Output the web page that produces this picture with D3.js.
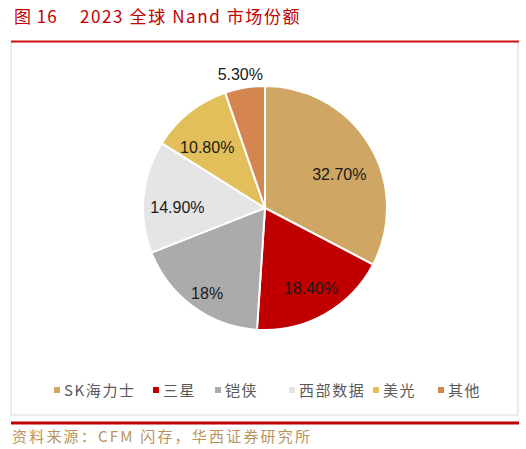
<!DOCTYPE html>
<html><head><meta charset="utf-8">
<script src="https://cdn.jsdelivr.net/npm/d3@7"></script>
<style>body{margin:0;background:#fff;}</style>
</head><body>
<svg id="c" width="526" height="449"></svg>
<script>
const categories = ["SK海力士","三星","铠侠","西部数据","美光","其他"];
const shares = [32.7, 18.4, 18, 14.9, 10.8, 5.3];
const labels = ["32.70%","18.40%","18%","14.90%","10.80%","5.30%"];
const colors = ["#CFA663","#C00000","#ABABAB","#E5E5E5","#E2BF5A","#D5854F"];

// label layout nudges (px) relative to slice centroid
const labelNudge = [[-1,12],[3,4],[-6,14],[0,7],[-3,8],[-2,1]];

const svg = d3.select("#c");
const cjk = "'Noto Sans CJK SC','Liberation Sans',sans-serif";

svg.append("text").attr("x",14).attr("y",23).attr("fill","#C00000")
  .attr("font-family",cjk).attr("font-size",17).attr("letter-spacing",1)
  .text("图 16");
svg.append("text").attr("x",80).attr("y",23).attr("fill","#C00000")
  .attr("font-family",cjk).attr("font-size",17).attr("letter-spacing",1.6)
  .text("2023 全球 Nand 市场份额");

svg.append("rect").attr("x",11).attr("y",42).attr("width",507).attr("height",373)
  .attr("fill","#fff").attr("stroke","#D9D9D9").attr("stroke-width",1);
svg.append("line").attr("x1",11).attr("x2",519).attr("y1",41.5).attr("y2",41.5)
  .attr("stroke","#D01515").attr("stroke-width",2);
svg.append("line").attr("x1",11).attr("x2",519).attr("y1",423).attr("y2",423)
  .attr("stroke","#C00000").attr("stroke-width",3);

const cx = 265, cy = 208, r = 122;
const pie = d3.pie().sort(null).value(d=>d);
const arcs = pie(shares);
const arc = d3.arc().innerRadius(0).outerRadius(r);
const g = svg.append("g").attr("transform",`translate(${cx},${cy})`);
g.selectAll("path").data(arcs).join("path")
  .attr("d",arc).attr("fill",(d,i)=>colors[i])
  .attr("stroke","#fff").attr("stroke-width",2).attr("stroke-linejoin","round");

const inner = d3.arc().innerRadius(88).outerRadius(88);
const outer = d3.arc().innerRadius(137).outerRadius(137);
g.selectAll("text.lab").data(arcs).join("text").attr("class","lab")
  .attr("transform",(d,i)=>{
    const c=(i===5?outer:inner).centroid(d);
    return `translate(${c[0]+labelNudge[i][0]},${c[1]+labelNudge[i][1]})`;
  })
  .attr("text-anchor","middle").attr("dy","0.36em")
  .attr("font-family","'Liberation Sans',Arial,sans-serif").attr("font-size",16)
  .attr("fill","#1a1a1a").text((d,i)=>labels[i]);

// legend
const legX = [54,153,215,289,373,438];
const lg = svg.append("g");
categories.forEach((c,i)=>{
  lg.append("rect").attr("x",legX[i]).attr("y",387).attr("width",6).attr("height",6).attr("fill",colors[i]);
  lg.append("text").attr("x",legX[i]+10).attr("y",395.5).attr("font-family",cjk)
    .attr("font-size",15).attr("fill","#595959").attr("letter-spacing",1.6).text(c);
});

svg.append("text").attr("x",12).attr("y",442).attr("fill","#B8935A")
  .attr("font-family",cjk).attr("font-size",15).attr("letter-spacing",2.2)
  .text("资料来源：CFM 闪存，华西证券研究所");
</script>
</body></html>
